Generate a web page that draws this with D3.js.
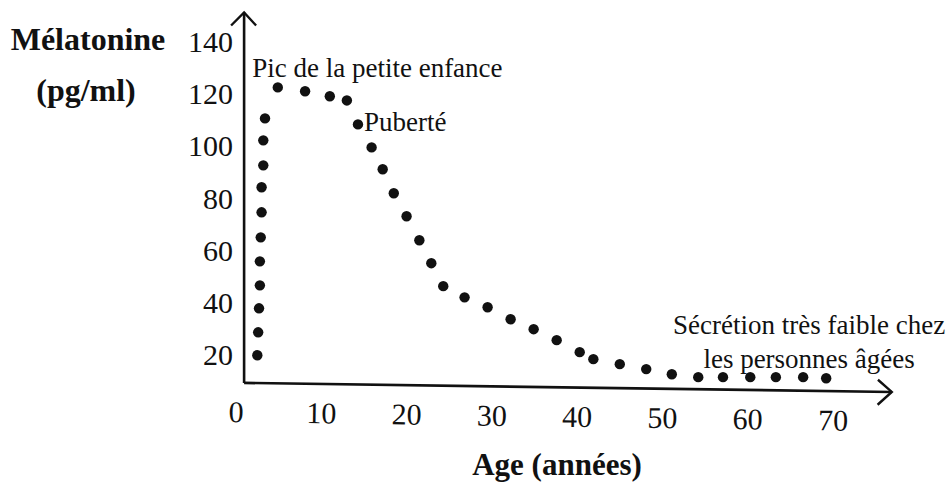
<!DOCTYPE html>
<html lang="fr">
<head>
<meta charset="utf-8">
<title>Mélatonine selon l'âge</title>
<script src="https://cdn.jsdelivr.net/npm/d3@7"></script>
<style>
  html, body { margin: 0; padding: 0; background: #fff; }
  svg { display: block; }
  svg text { font-family: "Liberation Serif", Tinos, "Times New Roman", Times, "DejaVu Serif", serif !important; }
  .tick text { font-size: 30px; fill: #111; }
  .note { font-size: 27px; fill: #111; }
  .titre { font-size: 32px; font-weight: bold; fill: #111; }
  .titre-x { font-size: 31px; }
</style>
</head>
<body>
<div id="chart"></div>
<script>
// Données : âge (années) et mélatonine (pg/ml)
const ages = [2.5, 2.6, 2.7, 2.8, 2.8, 2.9, 3.0, 3.0, 3.2, 3.2, 3.4,
              4.9, 8.1, 11.0, 13.0, 14.3, 15.9, 17.2, 18.5, 20.0, 21.5,
              22.9, 24.3, 26.8, 29.5, 32.2, 34.9, 37.6, 40.3, 41.9, 45.0,
              48.1, 51.1, 54.2, 57.1, 60.3, 63.3, 66.5, 69.2];
const melatonine = [19.9, 28.7, 37.9, 46.7, 55.9, 65.1, 74.7, 84.3, 92.7, 102.3, 110.7,
                    122.6, 121.1, 119.2, 117.6, 108.4, 99.6, 91.2, 82.0, 73.2, 64.0,
                    55.2, 46.4, 42.1, 38.3, 33.7, 29.9, 25.7, 21.1, 18.4, 16.5,
                    14.6, 12.6, 11.5, 11.5, 11.5, 11.5, 11.5, 11.1];

const xTicks = [0, 10, 20, 30, 40, 50, 60, 70];
const yTicks = [20, 40, 60, 80, 100, 120, 140];

const yLabel = ["Mélatonine", "(pg/ml)"];
const xLabel = "Age (années)";
const notePic = "Pic de la petite enfance";
const notePuberte = "Puberté";
const noteAges = ["Sécrétion très faible chez", "les personnes âgées"];

const width = 947, height = 484;
const ink = "#111";

const svg = d3.select("#chart").append("svg")
    .attr("width", width)
    .attr("height", height);

// Échelles
const x = d3.scaleLinear().domain([0, 70]).range([236, 833]);
const y = d3.scaleLinear().domain([20, 140]).range([355, 42]);

// Origine des axes (légèrement décalée comme sur le document)
const ox = x(0.95), oy = y(9.3);
const tilt = 0.8; // l'axe des x est un peu penché sur le scan

// Axe des y
const yAxis = svg.append("g")
    .attr("transform", `translate(${ox},0)`)
    .call(d3.axisLeft(y).tickValues(yTicks).tickSize(0).tickPadding(11));
yAxis.select(".domain").remove();
yAxis.attr("font-family", null).attr("font-size", null);

svg.append("path")
    .attr("d", `M${ox},${oy} L${ox},${y(151.3)}`)
    .attr("stroke", ink).attr("stroke-width", 2.6).attr("fill", "none");
svg.append("path")
    .attr("d", `M${ox - 13},${y(151.3) + 13} L${ox},${y(151.3)} L${ox + 12},${y(151.3) + 13}`)
    .attr("stroke", ink).attr("stroke-width", 2.4).attr("fill", "none");

// Axe des x (groupe incliné)
const gx = svg.append("g")
    .attr("transform", `rotate(${tilt},${ox},${oy})`);

const xAxis = gx.append("g")
    .attr("transform", `translate(0,${oy})`)
    .call(d3.axisBottom(x).tickValues(xTicks).tickSize(0).tickPadding(18));
xAxis.select(".domain").remove();
xAxis.attr("font-family", null).attr("font-size", null);

const xEnd = x(76.9);
gx.append("path")
    .attr("d", `M${ox},${oy} L${xEnd},${oy}`)
    .attr("stroke", ink).attr("stroke-width", 2.6).attr("fill", "none");
gx.append("path")
    .attr("d", `M${xEnd - 14},${oy - 12} L${xEnd},${oy} L${xEnd - 14},${oy + 13}`)
    .attr("stroke", ink).attr("stroke-width", 2.4).attr("fill", "none");

// Points
svg.selectAll(".dot")
    .data(ages.map((a, i) => ({ age: a, val: melatonine[i] })))
    .enter().append("circle")
    .attr("class", "dot")
    .attr("cx", d => x(d.age))
    .attr("cy", d => y(d.val))
    .attr("r", 5.2)
    .attr("fill", ink);

// Titres des axes
svg.append("text").attr("class", "titre")
    .attr("x", 88).attr("y", 50).attr("text-anchor", "middle")
    .text(yLabel[0]);
svg.append("text").attr("class", "titre")
    .attr("x", 86).attr("y", 101).attr("text-anchor", "middle")
    .text(yLabel[1]);
svg.append("text").attr("class", "titre titre-x")
    .attr("x", 557).attr("y", 475).attr("text-anchor", "middle")
    .text(xLabel);

// Annotations
svg.append("text").attr("class", "note")
    .attr("x", x(1.9)).attr("y", y(126.5))
    .text(notePic);
svg.append("text").attr("class", "note")
    .attr("x", x(14.3) + 6).attr("y", y(108.4) + 7)
    .text(notePuberte);
noteAges.forEach((t, i) => {
    svg.append("text").attr("class", "note")
        .attr("x", x(67.2)).attr("y", y(i === 0 ? 28.1 : 15.1))
        .attr("text-anchor", "middle")
        .text(t);
});
</script>
</body>
</html>
